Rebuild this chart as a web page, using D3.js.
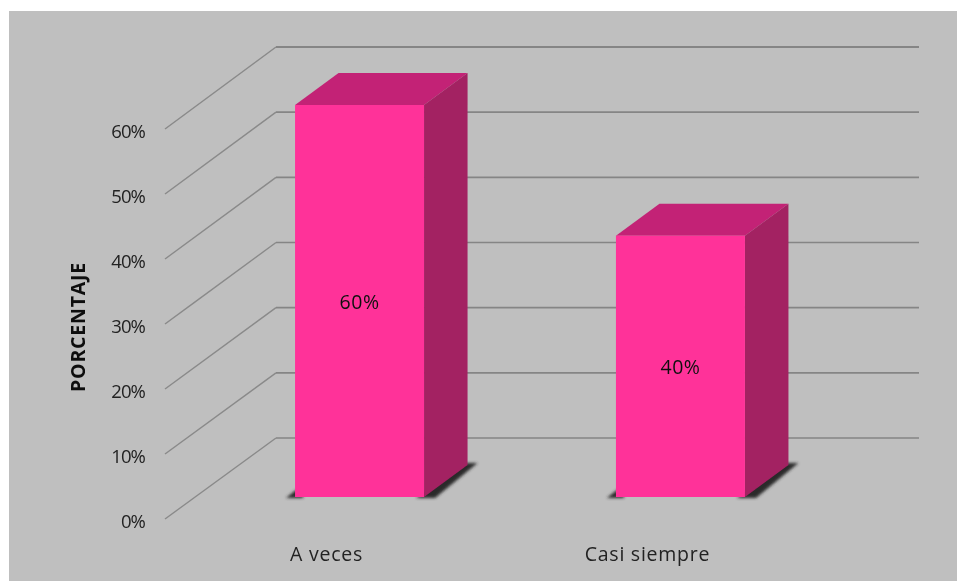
<!DOCTYPE html>
<html><head><meta charset="utf-8">
<script src="https://cdn.jsdelivr.net/npm/d3@7"></script>
<style>html,body{margin:0;padding:0;background:#fff}svg{display:block}text{font-family:"Open Sans",sans-serif;fill:#222}</style>
</head><body><svg id="c" width="957" height="581"></svg>
<script>
const categories = ["A veces", "Casi siempre"];
const values = [60, 40];
const valueLabels = ["60%", "40%"];
const ticks = [0, 10, 20, 30, 40, 50, 60];
const axisTitle = "PORCENTAJE";

const svg = d3.select("#c");
svg.append("rect").attr("x",9).attr("y",11).attr("width",948).attr("height",570).attr("fill","#bfbfbf");
const defs = svg.append("defs");
defs.append("filter").attr("id","soft").attr("x","-5%").attr("y","-5%").attr("width","110%").attr("height","110%")
  .append("feGaussianBlur").attr("stdDeviation",0.5);
defs.append("filter").attr("id","shadow").attr("x","-20%").attr("y","-50%").attr("width","140%").attr("height","200%")
  .append("feGaussianBlur").attr("stdDeviation",1.6);

const g = svg.append("g").attr("filter","url(#soft)");
const y = d3.scaleLinear().domain([0,60]).range([519,129]);
const yBack = d3.scaleLinear().domain([0,60]).range([438,47]);
const yBar = d3.scaleLinear().domain([0,60]).range([497,105]);
const x = d3.scaleBand().domain(categories).range([167,873]).paddingInner(0.598).paddingOuter(0.399);
const backLeft = 276, backRight = 919, frontLeft = 165;
const depthX = 43.5, depthY = 32;

ticks.forEach(t=>{
  g.append("path")
    .attr("d",d3.line()([[frontLeft,y(t)],[backLeft,yBack(t)]]))
    .attr("fill","none").attr("stroke", "#8a8a8a").attr("stroke-width", 1.5);
  g.append("path")
    .attr("d",d3.line()([[backLeft,yBack(t)],[backRight,yBack(t)]]))
    .attr("fill","none").attr("stroke", "#858585").attr("stroke-width", t===60?2:1.6);
});
g.selectAll("text.tick").data(ticks).join("text").attr("class","tick")
  .attr("x",145).attr("y",t=>y(t)+8.5).attr("text-anchor","end").attr("font-size",18.5).style("letter-spacing","-0.9px")
  .text(t=>t+"%");
g.append("text").attr("transform","translate(85,327) rotate(-90)").attr("text-anchor","middle")
  .attr("font-size",19.5).attr("font-weight",700).style("letter-spacing","0.8px").style("fill","#111").text(axisTitle);

categories.forEach((c,i)=>{
  const x0=x(c), x1=x0+x.bandwidth(), yb=yBar(0), yt=yBar(values[i]);
  const line=d3.line();
  g.append("path").attr("filter","url(#shadow)").attr("fill","#2a2a2a")
    .attr("d",line([[x1-8,yb+1],[x1+depthX-8,yb-depthY-2],[x1+depthX+10,yb-depthY-2],[x1+11,yb+1]])+"Z");
  g.append("path").attr("filter","url(#shadow)").attr("fill","#2a2a2a")
    .attr("d",line([[x0-9,yb+1],[x0+1,yb-7],[x0+8,yb-7],[x0+8,yb+1]])+"Z");
  g.append("path").attr("fill","#c32476")
    .attr("d",line([[x0,yt],[x0+depthX,yt-depthY],[x1+depthX,yt-depthY],[x1,yt]])+"Z");
  g.append("path").attr("fill","#a32062")
    .attr("d",line([[x1,yt],[x1+depthX,yt-depthY],[x1+depthX,yb-depthY],[x1,yb]])+"Z");
  g.append("rect").attr("x",x0).attr("y",yt).attr("width",x.bandwidth()).attr("height",yb-yt).attr("fill","#ff3399");
  g.append("text").attr("x",(x0+x1)/2).attr("y",(yt+yb)/2+8).attr("text-anchor","middle")
    .attr("font-size",19.5).style("letter-spacing","0.5px").style("fill","#111").text(valueLabels[i]);
  g.append("text").attr("x",(x0+x1)/2-33).attr("y",561).attr("text-anchor","middle")
    .attr("font-size",19.5).style("letter-spacing","0.75px").text(c);
});
</script></body></html>
